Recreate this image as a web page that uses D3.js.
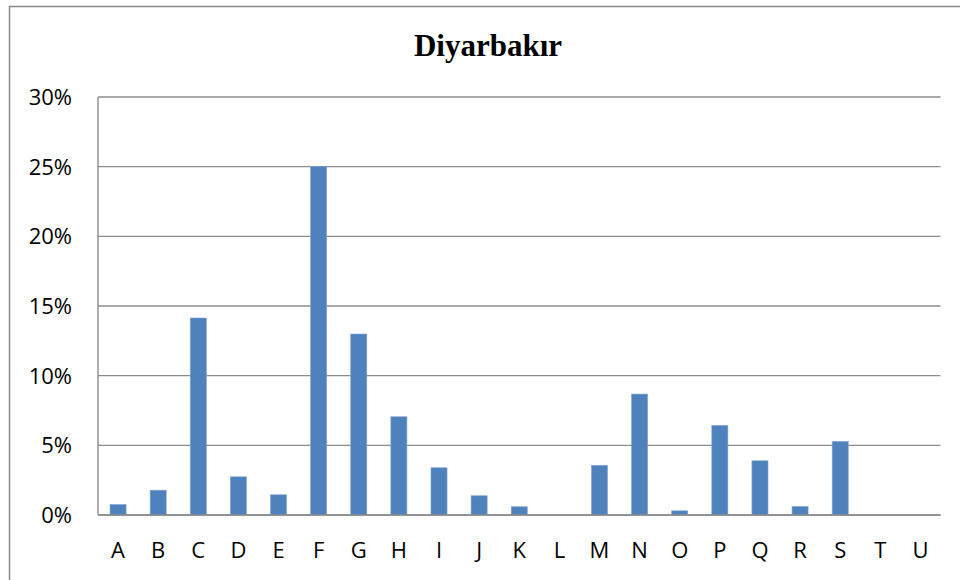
<!DOCTYPE html>
<html>
<head>
<meta charset="utf-8">
<script src="https://cdn.jsdelivr.net/npm/d3@7"></script>
<style>
  html, body { margin: 0; padding: 0; background: #fff; }
  svg { display: block; }
</style>
</head>
<body>
<svg id="chart" width="960" height="580"></svg>
<script>
const title = "Diyarbakır";
const categories = ["A","B","C","D","E","F","G","H","I","J","K","L","M","N","O","P","Q","R","S","T","U"];
const values = [0.75, 1.78, 14.14, 2.74, 1.45, 25.0, 12.99, 7.05, 3.39, 1.38, 0.59, 0, 3.56, 8.68, 0.30, 6.43, 3.89, 0.61, 5.28, 0, 0];
const yTicks = [0, 5, 10, 15, 20, 25, 30];

const svg = d3.select("#chart");
const plotLeft = 98, plotRight = 940.5, plotTop = 97, plotBottom = 515;

// outer frame
svg.append("path")
  .attr("d", `M9.5,585 V6.5 H965`)
  .attr("fill", "none").attr("stroke", "#8a8a8a").attr("stroke-width", 1.5);

const x = d3.scaleBand().domain(categories).range([plotLeft, plotRight]).paddingInner(0.6).paddingOuter(0.3);
const y = d3.scaleLinear().domain([0, 30]).range([plotBottom, plotTop]);

// gridlines
svg.append("g").selectAll("line").data(yTicks).join("line")
  .attr("x1", plotLeft).attr("x2", plotRight)
  .attr("y1", d => y(d)).attr("y2", d => y(d))
  .attr("stroke", "#8c8c8c").attr("stroke-width", 1.4);

// y axis line
svg.append("line").attr("x1", plotLeft).attr("x2", plotLeft).attr("y1", plotTop).attr("y2", plotBottom)
  .attr("stroke", "#8c8c8c").attr("stroke-width", 1.4);

// bars
svg.append("g").selectAll("rect").data(values).join("rect")
  .attr("x", (d, i) => x(categories[i]))
  .attr("width", x.bandwidth())
  .attr("y", d => y(d))
  .attr("height", d => plotBottom - y(d))
  .attr("fill", "#4f81bd")
  .attr("stroke", "#7fa3d1").attr("stroke-width", 0.6);

// baseline on top
svg.append("line").attr("x1", plotLeft).attr("x2", plotRight).attr("y1", plotBottom).attr("y2", plotBottom)
  .attr("stroke", "#8c8c8c").attr("stroke-width", 1.4);

// y labels
svg.append("g").selectAll("text").data(yTicks).join("text")
  .attr("x", 72).attr("y", d => y(d))
  .attr("dy", "0.36em")
  .attr("text-anchor", "end")
  .attr("font-family", "'Open Sans', sans-serif").attr("font-size", 22)
  .attr("fill", "#000")
  .text(d => d + "%");

// x labels
svg.append("g").selectAll("text").data(categories).join("text")
  .attr("x", d => x(d) + x.bandwidth() / 2).attr("y", 557.5)
  .attr("text-anchor", "middle")
  .attr("font-family", "'Open Sans', sans-serif").attr("font-size", 22)
  .attr("fill", "#000")
  .text(d => d);

// title
svg.append("text")
  .attr("x", 488).attr("y", 56)
  .attr("text-anchor", "middle")
  .attr("font-family", "'Liberation Serif', 'Times New Roman', serif")
  .attr("font-weight", "bold").attr("font-size", 31)
  .attr("fill", "#000")
  .text(title);
</script>
</body>
</html>
